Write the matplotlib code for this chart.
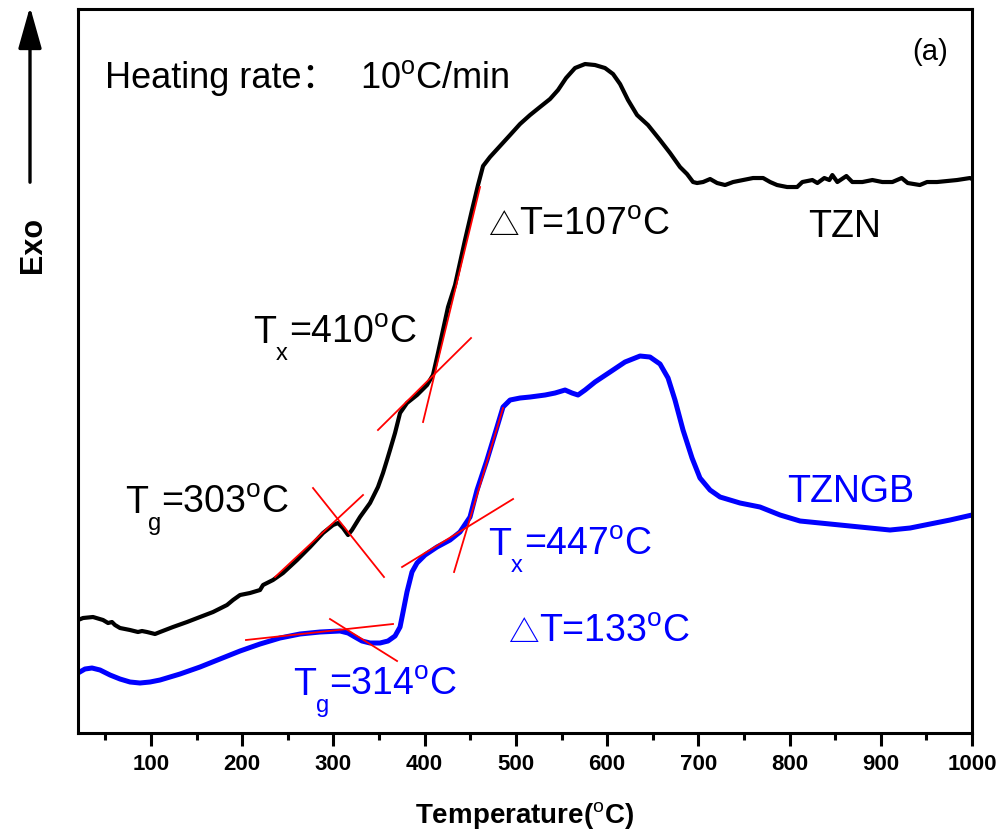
import matplotlib
matplotlib.use("Agg")
import matplotlib.pyplot as plt
from matplotlib.ticker import MultipleLocator

plt.rcParams['font.family'] = ['Liberation Sans', 'DejaVu Sans']
plt.rcParams['mathtext.fontset'] = 'custom'
plt.rcParams['mathtext.rm'] = 'Liberation Sans'
plt.rcParams['mathtext.it'] = 'Liberation Sans:italic'
plt.rcParams['mathtext.bf'] = 'Liberation Sans:bold'
plt.rcParams['mathtext.default'] = 'regular'

# ---------------- data ----------------
tzn_T = [20, 25.5, 36.4, 47.4, 52.9, 57.2, 60.5, 66.0, 77.0, 85.7, 90.1, 95.6, 104.4, 109.9,
         124.1, 139.5, 153.7, 168.0, 183.3, 189.9, 197.6, 208.5, 219.5, 222.8, 233.7, 244.7,
         260.1, 274.3, 288.6, 299.5, 305.0, 310.5, 316.0, 320.3, 329.1, 340.1, 348.8, 354.3,
         358.7, 362.0, 367.5, 373.0, 380.6, 391.6, 402.6, 409.1, 414.6, 420.1, 425.6, 433.3,
         444.2, 451.9, 458.5, 464.0, 471.6, 482.6, 493.6, 504.5, 515.5, 526.4, 537.4, 546.2,
         555.0, 564.8, 575.8, 586.7, 597.7, 606.5, 614.2, 622.9, 632.8, 644.8, 658.0, 669.0,
         679.9, 687.6, 694.2, 698.6, 705.2, 712.9, 720.6, 729.3, 738.1, 749.0, 760.0, 771.0,
         778.7, 786.3, 797.3, 808.3, 814.0, 825.0, 830.5, 838.1, 843.6, 846.9, 852.4, 862.3,
         868.8, 879.8, 890.8, 901.7, 912.7, 922.9, 929.5, 942.8, 950.7, 961.6, 972.6, 983.6,
         997.8, 1000]
tzn_S = [11.3, 11.5, 11.6, 11.3, 11.0, 11.1, 10.8, 10.5, 10.3, 10.1, 10.2, 10.1, 9.9, 10.1,
         10.6, 11.1, 11.6, 12.1, 12.8, 13.3, 13.8, 14.0, 14.3, 14.8, 15.3, 16.0,
         17.3, 18.6, 20.0, 20.8, 21.0, 20.5, 19.8, 20.3, 21.6, 23.0, 24.6, 26.0,
         27.3, 28.3, 30.0, 32.0, 33.0, 33.8, 34.8, 35.8, 38.0, 40.3, 42.6, 44.8,
         49.3, 52.3, 54.8, 56.7, 57.6, 58.7, 59.8, 60.9, 61.8, 62.6, 63.4, 64.3,
         65.5, 66.5, 66.9, 66.8, 66.5, 65.9, 64.9, 63.3, 61.8, 60.8, 59.3, 58.0,
         56.6, 55.9, 55.1, 55.0, 55.1, 55.4, 55.0, 54.8, 55.1, 55.3, 55.5, 55.5,
         55.1, 54.8, 54.6, 54.6, 55.1, 55.3, 55.0, 55.5, 55.3, 55.8, 55.1, 55.7,
         55.1, 55.1, 55.3, 55.1, 55.1, 55.5, 55.0, 54.8, 55.1, 55.1, 55.2, 55.3,
         55.5, 55.4]

tzngb_T = [20, 27.6, 35.3, 44.1, 55.1, 66.0, 77.0, 87.9, 98.9, 109.9, 131.8, 153.7, 175.6,
           197.6, 219.5, 241.4, 263.3, 285.3, 307.2, 316.0, 323.6, 331.3, 340.1, 351.0,
           359.8, 367.5, 373.0, 376.3, 380.6, 386.1, 391.6, 400.4, 413.5, 427.8, 438.7,
           449.7, 457.4, 468.3, 479.3, 485.9, 493.6, 504.5, 515.5, 532.0, 542.9, 553.9,
           561.5, 568.1, 575.8, 586.7, 603.2, 619.6, 636.1, 647.0, 658.0, 666.8, 674.4,
           683.2, 693.1, 701.8, 712.8, 723.8, 745.7, 767.6, 789.6, 811.5, 844.4, 877.2,
           910.1, 932.1, 954.0, 975.9, 1000]
tzngb_S = [6.0, 6.4, 6.5, 6.3, 5.8, 5.4, 5.1, 5.0, 5.1, 5.3, 5.9, 6.6, 7.4,
           8.2, 8.9, 9.5, 9.9, 10.1, 10.2, 10.0, 9.6, 9.2, 9.0, 9.0,
           9.2, 9.7, 10.6, 12.1, 14.1, 16.1, 17.0, 17.8, 18.6, 19.3, 20.1,
           21.6, 24.3, 27.3, 30.6, 32.6, 33.3, 33.5, 33.6, 33.8, 34.0, 34.3,
           34.0, 33.8, 34.3, 35.1, 36.1, 37.1, 37.7, 37.6, 36.9, 35.5, 33.3,
           30.3, 27.5, 25.5, 24.3, 23.6, 23.0, 22.6, 21.8, 21.2, 20.9, 20.6,
           20.3, 20.5, 20.9, 21.3, 21.8]

# tangent construction lines: (T1, S1, T2, S2)
tangents = [
    (236.0, 15.6, 332.4, 23.8),
    (277.6, 24.5, 355.4, 15.6),
    (348.8, 30.3, 450.8, 39.5),
    (398.2, 31.1, 460.7, 54.6),
    (204.1, 9.3, 365.3, 10.9),
    (296.2, 11.4, 369.7, 7.2),
    (375.2, 16.6, 496.9, 23.4),
    (432.2, 16.1, 485.9, 32.5),
]

major_ticks = [100, 200, 300, 400, 500, 600, 700, 800, 900, 1000]

BLUE = '#0000ff'
PX = 0.72  # points per pixel at dpi 100

# ---------------- figure ----------------
fig = plt.figure(figsize=(10.03, 8.36), dpi=100)
ax = fig.add_axes([0.0778, 0.1232, 0.8913, 0.8660])

ax.plot(tzn_T, tzn_S, color='black', lw=3.0, solid_joinstyle='round', zorder=2)
ax.plot(tzngb_T, tzngb_S, color=BLUE, lw=3.6, solid_joinstyle='round', zorder=2)
for t1, s1, t2, s2 in tangents:
    ax.plot([t1, t2], [s1, s2], color='red', lw=1.3, zorder=3)

ax.set_xlim(20, 1000)
ax.set_ylim(0, 72.4)
ax.set_xticks(major_ticks)
ax.set_xticklabels([str(t) for t in major_ticks])
ax.xaxis.set_minor_locator(MultipleLocator(50))
ax.set_yticks([])
for sp in ax.spines.values():
    sp.set_linewidth(2.2)
ax.tick_params(axis='x', which='major', direction='out', length=9, width=2.2, pad=6,
               labelsize=16)
ax.tick_params(axis='x', which='minor', direction='out', length=5, width=2.2)
for lab in ax.get_xticklabels():
    lab.set_fontweight('bold')

ax.set_xlabel(r'Temperature($^{\mathrm{o}}$C)', fontsize=20, fontweight='bold', labelpad=18)

fs = 27
DEG = r'$^{\mathrm{o}}$'


def sub_label(T, S, sub, rest, color, sub_dx=23, rest_dx=36):
    ax.text(T, S, 'T', fontsize=fs, va='baseline', color=color)
    ax.annotate(sub, xy=(T, S), xytext=(sub_dx * PX, -17 * PX), textcoords='offset points',
                fontsize=17, va='baseline', color=color)
    ax.annotate(rest, xy=(T, S), xytext=(rest_dx * PX, 0), textcoords='offset points',
                fontsize=fs, va='baseline', color=color)


def delta_label(T, S, rest, color):
    ax.text(T, S, '△', fontsize=22, va='baseline', color=color, family=['Noto Sans CJK SC'])
    ax.annotate(rest, xy=(T, S), xytext=(31 * PX, 0), textcoords='offset points',
                fontsize=fs, va='baseline', color=color)


ax.text(49.6, 64.5, 'Heating rate：', fontsize=26,
        family=['Liberation Sans', 'Noto Sans CJK SC'], va='baseline')
ax.text(329.1, 64.5, '10' + DEG + 'C/min', fontsize=26, va='baseline')
ax.text(954, 68.1, '(a)', fontsize=21, ha='center', va='center')

ax.text(820, 49.6, 'TZN', fontsize=fs, va='baseline', color='black')
delta_label(469.4, 49.8, 'T=107' + DEG + 'C', 'black')
sub_label(211.8, 39.0, 'x', '=410' + DEG + 'C', 'black')
sub_label(71.5, 22.0, 'g', '=303' + DEG + 'C', 'black')

ax.text(797, 23.1, 'TZNGB', fontsize=fs, va='baseline', color=BLUE)
sub_label(469.4, 17.8, 'x', '=447' + DEG + 'C', BLUE)
delta_label(491.4, 9.1, 'T=133' + DEG + 'C', BLUE)
sub_label(255.7, 3.8, 'g', '=314' + DEG + 'C', BLUE)

# Exo arrow and label
fig.text(33 / 1003, 1 - 245 / 836, 'Exo', rotation=90, fontsize=22, fontweight='bold',
         ha='center', va='center')
fig.patches.append(matplotlib.patches.FancyArrowPatch(
    (30 / 1003, 1 - 185 / 836), (30 / 1003, 1 - 4 / 836), transform=fig.transFigure,
    arrowstyle='-|>,head_length=1.6,head_width=0.45', mutation_scale=16, lw=2.4, color='black'))

fig.savefig('out.png', dpi=100)
